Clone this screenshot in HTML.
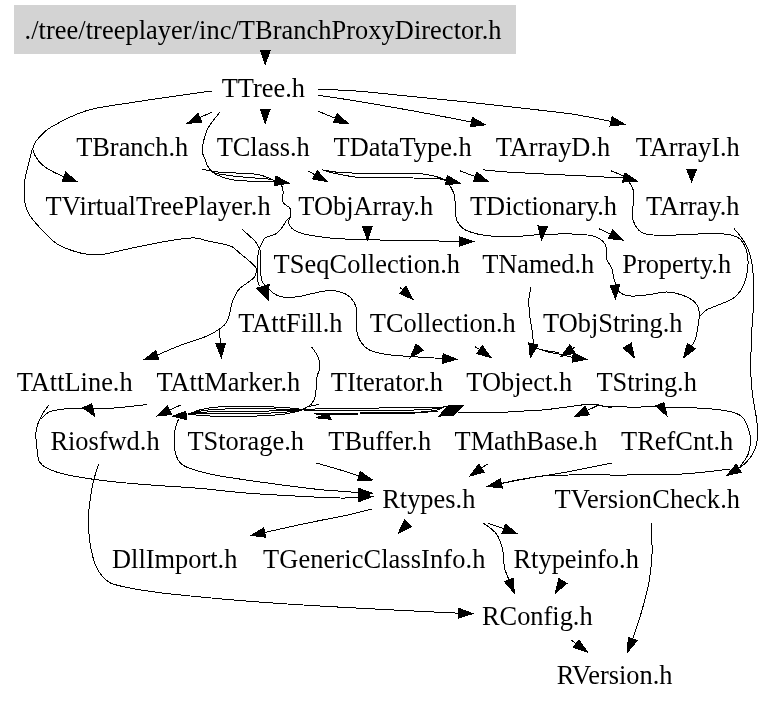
<!DOCTYPE html>
<html><head><meta charset="utf-8"><title>TBranchProxyDirector.h include graph</title>
<style>html,body{margin:0;padding:0;background:#fff}svg{display:block;will-change:transform}text{text-anchor:middle;font-family:"Liberation Serif","DejaVu Serif",serif;font-size:26.4px;fill:#000}.e{fill:none;stroke:#000;stroke-width:1;shape-rendering:crispEdges}.a{fill:#000;stroke:#000;stroke-width:1;shape-rendering:crispEdges}</style></head>
<body>
<svg width="775" height="704" viewBox="0 0 775 704">
<rect x="0" y="0" width="775" height="704" fill="#fff"/>
<rect x="14" y="5" width="502" height="49" fill="#d3d3d3"/>
<path class="e" d="M212.3,111.9 L199.9,117.6"/>
<path class="e" d="M318.0,111.2 L335.3,118.2"/>
<path class="e" d="M318.0,95.2 C325.0,96.3 344.4,99.0 360.0,101.6 C375.6,104.2 393.0,107.2 411.6,110.6 C430.2,114.0 461.5,120.1 471.5,122.0"/>
<path class="e" d="M318.0,89.2 C325.0,89.5 344.4,90.1 360.0,91.3 C375.6,92.5 394.4,94.8 411.6,96.5 C428.8,98.2 446.0,99.8 463.2,101.6 C480.4,103.4 498.7,105.5 514.8,107.3 C530.9,109.1 550.0,111.3 560.0,112.5 C570.0,113.7 566.5,113.0 575.0,114.5 C583.5,116.0 605.1,120.2 611.1,121.4"/>
<path class="e" d="M212.0,91.3 C210.0,91.5 213.8,90.6 200.0,92.6 C186.2,94.5 147.9,100.0 129.0,103.0 C110.1,106.0 99.7,106.6 86.7,110.6 C73.7,114.6 59.0,122.5 50.9,127.2 C42.8,131.9 41.1,135.3 38.1,138.7 C35.1,142.1 33.4,144.7 33.0,147.7 C32.6,150.7 33.9,153.6 35.6,156.6 C37.3,159.6 40.2,163.0 43.2,165.6 C46.2,168.2 50.0,170.1 53.5,172.0 C57.0,173.9 62.2,175.9 63.9,176.7"/>
<path class="e" d="M32.5,148.5 C31.9,150.7 30.4,156.9 29.2,161.7 C28.0,166.4 26.2,172.3 25.3,177.0 C24.4,181.7 24.0,185.3 24.0,190.0 C24.0,194.7 24.4,200.8 25.3,205.0 C26.2,209.2 27.8,212.0 29.5,215.0 C31.2,218.0 32.9,219.8 35.6,223.0 C38.4,226.2 42.2,230.3 46.0,234.0 C49.8,237.7 52.7,241.7 58.6,244.9 C64.5,248.1 75.0,251.7 81.6,253.3 C88.2,254.9 93.8,254.6 98.0,254.6 C102.2,254.6 101.8,254.6 107.0,253.6 C112.2,252.6 118.9,250.8 129.0,248.7 C139.1,246.6 156.9,242.8 167.7,241.0 C178.4,239.2 187.2,238.0 193.5,237.9 C199.8,237.8 200.6,239.4 205.8,240.5 C211.1,241.6 220.5,243.4 225.0,244.5 C229.5,245.6 230.2,245.6 232.7,247.1 C235.2,248.6 237.4,251.3 240.0,253.4 C242.6,255.5 245.3,257.5 248.0,259.9 C250.7,262.3 254.6,265.6 255.9,267.8 C257.2,270.0 256.4,271.1 256.1,272.8 C255.8,274.5 255.6,276.0 253.9,277.8 C252.2,279.6 248.3,282.1 246.0,283.8 C243.7,285.5 241.6,286.6 240.0,288.2 C238.4,289.8 237.5,291.1 236.2,293.5 C234.9,295.9 233.2,299.3 232.1,302.6 C231.0,305.9 230.7,309.9 229.8,313.2 C228.9,316.5 228.1,319.7 226.5,322.3 C224.9,324.9 223.4,326.3 220.0,328.7 C216.6,331.1 212.5,333.7 205.8,336.5 C199.1,339.3 188.1,342.4 180.0,345.5 C171.9,348.6 161.0,353.5 157.2,355.2"/>
<path class="e" d="M220.0,328.7 C220.0,330.2 219.9,335.5 220.0,338.0 C220.1,340.5 220.6,342.7 220.7,343.6"/>
<path class="e" d="M220.0,112.0 C218.1,114.6 211.2,122.2 208.4,127.4 C205.6,132.6 204.1,138.7 203.2,143.0 C202.2,147.3 202.3,150.4 202.7,153.2 C203.0,156.0 204.4,157.8 205.3,160.0 C206.2,162.2 206.4,164.2 207.9,166.5 C209.4,168.8 211.8,171.7 214.4,173.5 C217.0,175.3 220.2,176.3 223.4,177.4 C226.6,178.5 228.8,179.3 233.7,180.0 C238.6,180.7 246.1,181.0 253.0,181.3 C259.9,181.6 270.3,181.3 275.0,182.0 C279.7,182.7 280.0,183.5 281.4,185.2 C282.8,186.9 282.9,189.2 283.1,192.0 C283.3,194.8 281.6,199.2 282.8,202.0 C284.0,204.8 289.1,206.2 290.3,208.7 C291.6,211.2 290.5,215.2 290.3,217.1 C290.1,219.0 289.0,218.7 288.9,220.0 C288.8,221.3 288.5,223.5 289.5,225.2 C290.5,226.9 292.1,228.8 294.7,230.3 C297.3,231.8 299.9,233.0 305.0,234.2 C310.1,235.4 319.2,236.7 325.0,237.4 C330.8,238.2 334.1,238.3 340.0,238.7 C345.9,239.1 348.7,239.4 360.6,239.7 C372.5,240.0 395.2,240.2 411.6,240.5 C428.0,240.8 451.1,241.2 459.0,241.4"/>
<path class="e" d="M290.3,217.1 C289.7,217.6 288.3,218.2 286.9,220.0 C285.5,221.8 283.5,225.4 281.8,227.7 C280.1,229.9 278.6,232.1 276.6,233.5 C274.6,234.9 271.8,235.2 269.9,236.0 C267.9,236.8 266.1,237.0 264.9,238.0 C263.6,239.0 263.3,240.3 262.4,242.0 C261.5,243.7 260.4,246.1 259.6,248.4 C258.9,250.7 258.2,252.2 257.9,255.9 C257.6,259.6 257.7,266.3 257.7,270.8 C257.7,275.3 257.7,280.3 258.1,282.8 C258.5,285.3 259.6,285.2 259.9,285.7"/>
<path class="e" d="M202.1,169.3 C205.2,169.8 214.5,171.7 220.8,172.3 C227.2,173.0 233.8,172.8 240.2,173.2 C246.6,173.6 253.7,173.5 259.5,174.8 C265.3,176.1 272.6,179.8 275.2,180.8"/>
<path class="e" d="M209.0,168.5 C209.9,169.2 210.3,171.6 214.4,172.9 C218.5,174.2 227.3,175.3 233.7,176.1 C240.1,176.9 246.6,177.2 253.0,177.8 C259.4,178.4 269.2,179.1 272.4,179.4"/>
<path class="e" d="M242.4,229.3 C243.6,230.4 247.4,234.1 249.5,236.0 C251.6,237.9 253.2,238.9 254.9,241.0 C256.6,243.1 258.4,246.2 259.4,248.4 C260.4,250.6 260.5,249.7 260.7,253.9 C260.9,258.1 260.4,269.2 260.7,273.8 C261.0,278.4 261.5,279.8 262.4,281.8 C263.3,283.8 264.6,284.3 265.9,285.7 C267.1,287.1 268.2,288.7 269.9,290.2 C271.5,291.7 273.5,293.5 275.8,294.7 C278.1,295.9 280.2,296.8 283.8,297.2 C287.4,297.6 292.5,297.4 297.3,296.8 C302.1,296.2 308.1,294.5 312.7,293.5 C317.3,292.5 321.3,291.4 325.0,291.0 C328.7,290.6 331.0,290.1 334.8,290.8 C338.6,291.5 344.2,292.8 347.7,295.2 C351.1,297.6 354.0,301.6 355.5,305.5 C357.0,309.4 356.6,314.1 356.8,318.4 C357.0,322.7 356.2,327.4 356.8,331.3 C357.4,335.2 358.7,338.6 360.6,341.6 C362.5,344.6 365.2,347.5 368.4,349.4 C371.6,351.3 376.2,352.3 380.0,353.2 C383.8,354.1 385.7,354.4 391.0,355.0 C396.3,355.6 403.0,356.0 411.6,356.6 C420.2,357.2 437.6,358.2 442.8,358.5"/>
<path class="e" d="M311.6,346.8 C312.7,348.5 316.6,353.6 318.0,357.0 C319.4,360.4 320.1,363.9 319.9,367.4 C319.7,370.8 317.5,373.0 316.8,377.7 C316.1,382.4 316.4,391.1 315.5,395.5 C314.6,399.9 313.4,401.6 311.6,403.8 C309.8,406.0 306.6,407.5 304.7,408.5 C302.8,409.5 300.8,409.8 300.0,410.0"/>
<path class="e" d="M322.0,169.8 C324.8,170.2 332.4,171.8 338.7,172.4 C345.0,173.0 353.6,173.0 360.0,173.2 C366.4,173.4 368.1,173.4 377.4,173.4 C386.7,173.4 406.6,173.0 416.0,173.4 C425.4,173.8 428.9,174.9 434.0,176.0 C439.1,177.1 444.3,179.5 446.3,180.2"/>
<path class="e" d="M326.0,171.3 C328.1,171.8 333.1,173.2 338.7,174.2 C344.3,175.2 351.7,176.9 359.4,177.5 C367.1,178.1 376.0,177.8 385.0,177.9 C394.0,178.0 404.4,177.8 413.5,178.0 C422.6,178.2 433.9,178.2 439.4,178.8 C444.9,179.4 444.9,180.6 446.5,181.5 C448.1,182.4 447.7,182.0 449.0,184.2 C450.3,186.4 453.1,190.2 454.2,194.5 C455.3,198.8 455.1,205.7 455.5,210.0 C455.9,214.3 455.5,217.2 456.8,220.3 C458.1,223.4 460.0,226.4 463.2,228.6 C466.4,230.8 470.9,232.4 476.1,233.7 C481.3,235.0 487.8,235.8 494.2,236.3 C500.6,236.8 506.8,236.9 514.8,236.6 C522.8,236.3 532.5,234.9 542.0,234.5 C551.5,234.1 563.2,233.8 571.6,234.0 C580.0,234.2 587.1,234.6 592.3,235.8 C597.5,237.0 600.2,238.8 602.6,241.0 C605.0,243.2 605.9,245.7 606.5,248.7 C607.1,251.7 605.6,255.8 606.5,259.0 C607.4,262.2 610.3,264.6 611.6,268.0 C612.9,271.4 612.9,275.7 614.2,279.7 C615.5,283.7 616.6,289.3 619.4,292.0 C622.2,294.7 626.1,295.6 631.0,296.0 C635.9,296.4 643.0,295.3 649.0,294.6 C655.0,293.9 661.4,291.9 667.0,292.0 C672.6,292.1 677.9,293.4 682.6,295.2 C687.4,297.0 692.7,300.0 695.5,303.0 C698.3,306.0 699.0,309.4 699.4,313.2 C699.8,317.0 698.6,321.7 698.0,326.0 C697.4,330.3 696.6,335.6 695.5,339.0 C694.4,342.4 692.1,345.0 691.4,346.1"/>
<path class="e" d="M307.7,170.8 L314.9,174.8"/>
<path class="e" d="M460.0,170.8 L475.2,176.6"/>
<path class="e" d="M482.9,169.8 C487.2,170.2 497.9,171.4 508.7,172.1 C519.5,172.8 534.5,173.5 547.4,174.2 C560.3,174.8 574.8,175.4 586.0,176.0 C597.2,176.6 608.2,177.3 614.5,177.5 C620.8,177.7 622.2,177.5 623.7,177.5"/>
<path class="e" d="M611.0,170.8 L625.0,176.5"/>
<path class="e" d="M628.0,180.3 C628.8,181.8 632.0,186.2 633.0,189.4 C634.0,192.6 633.9,195.8 633.8,199.7 C633.7,203.6 632.3,209.0 632.3,212.6 C632.2,216.2 632.1,218.3 633.5,221.5 C634.9,224.7 637.2,229.4 640.5,231.7 C643.8,233.9 646.0,234.5 653.2,235.0 C660.5,235.5 674.6,235.1 684.0,234.8 C693.4,234.6 701.8,233.5 709.5,233.5 C717.2,233.5 724.9,233.8 730.0,234.8 C735.1,235.8 737.4,236.7 740.2,239.4 C743.0,242.1 745.3,246.5 746.6,251.0 C747.9,255.5 748.3,260.8 747.9,266.3 C747.5,271.8 746.1,279.1 744.0,284.2 C741.9,289.3 738.6,293.8 735.0,297.0 C731.4,300.2 727.0,301.3 722.3,303.4 C717.6,305.5 710.8,307.6 707.0,309.7 C703.2,311.8 701.0,314.9 699.8,316.0"/>
<path class="e" d="M733.8,228.4 C735.0,229.8 738.8,233.9 741.0,237.0 C743.2,240.1 745.4,243.5 747.0,246.8 C748.6,250.1 749.5,253.2 750.5,257.0 C751.5,260.8 752.2,263.2 752.8,269.8 C753.4,276.4 754.1,285.8 753.9,296.7 C753.7,307.6 752.1,322.2 751.6,335.0 C751.1,347.8 750.6,363.2 750.8,373.4 C751.0,383.6 751.8,388.7 752.8,396.4 C753.8,404.1 755.8,413.0 756.6,419.4 C757.4,425.8 758.0,429.7 757.7,434.8 C757.4,439.9 756.5,445.5 754.7,450.0 C752.9,454.5 749.7,458.6 747.0,461.6 C744.3,464.6 740.1,467.1 738.7,468.2"/>
<path class="e" d="M598.7,228.6 L610.5,234.2"/>
<path class="e" d="M400.0,287.4 L402.8,290.0"/>
<path class="e" d="M475.2,346.9 L479.5,349.5"/>
<path class="e" d="M531.0,287.4 C530.7,289.1 529.3,293.4 529.0,297.7 C528.7,302.0 528.9,307.8 529.4,313.2 C529.9,318.6 531.3,324.9 532.0,330.0 C532.7,335.1 533.2,341.6 533.5,344.0"/>
<path class="e" d="M533.4,344.2 C533.5,344.6 532.1,345.6 534.2,346.8 C536.3,348.0 541.3,350.1 545.8,351.4 C550.3,352.7 556.8,353.5 561.3,354.5 C565.8,355.5 570.8,356.9 572.7,357.4"/>
<path class="e" d="M575.5,346.8 L572.4,348.8"/>
<path class="e" d="M536.0,348.0 C537.5,348.4 541.2,349.8 545.0,350.5 C548.8,351.2 556.4,352.2 558.7,352.5"/>
<path class="e" d="M49.0,405.0 C47.7,406.8 43.5,411.6 41.3,416.0 C39.1,420.4 36.6,425.6 36.0,431.6 C35.4,437.6 36.7,446.8 37.4,452.0 C38.1,457.2 37.6,459.6 40.0,462.6 C42.4,465.7 45.4,467.9 51.6,470.3 C57.8,472.7 66.7,474.9 77.4,476.8 C88.1,478.8 103.1,480.6 116.0,482.0 C128.9,483.4 140.8,484.2 154.8,485.3 C168.8,486.4 185.3,487.1 200.0,488.4 C214.7,489.6 227.4,491.5 243.2,492.8 C259.0,494.1 278.7,495.1 294.8,496.0 C310.9,496.9 329.4,497.8 340.0,498.0 C350.6,498.2 355.6,497.6 358.7,497.5"/>
<path class="e" d="M147.0,404.5 C141.8,405.1 124.6,407.2 116.0,407.9 C107.4,408.6 101.1,408.8 95.5,408.9 C89.9,408.9 87.8,408.2 82.6,408.2 C77.4,408.2 70.1,408.3 64.5,408.9 C58.9,409.5 52.9,410.4 49.0,412.0 C45.1,413.6 42.6,417.6 41.3,418.7"/>
<path class="e" d="M180.6,405.0 L169.5,410.1"/>
<path class="e" d="M188.0,414.2 C190.5,413.3 197.3,410.3 203.0,409.1 C208.7,407.8 213.7,407.1 222.0,406.7 C230.3,406.3 242.7,406.3 253.0,406.4 C263.3,406.5 275.5,407.0 284.0,407.5 C292.5,408.1 300.7,409.3 304.0,409.6"/>
<path class="e" d="M188.0,414.2 C190.5,413.6 197.3,411.5 203.0,410.7 C208.7,409.8 213.7,409.4 222.0,409.1 C230.3,408.8 242.7,408.8 253.0,408.8 C263.3,408.8 275.5,409.0 284.0,409.1 C292.5,409.3 300.7,409.5 304.0,409.6"/>
<path class="e" d="M188.0,414.2 C190.5,413.9 197.3,412.7 203.0,412.3 C208.7,411.8 213.7,411.7 222.0,411.5 C230.3,411.3 242.7,411.3 253.0,411.2 C263.3,411.1 275.5,411.0 284.0,410.7 C292.5,410.5 300.7,409.8 304.0,409.6"/>
<path class="e" d="M188.0,414.2 C190.5,414.1 197.3,413.9 203.0,413.9 C208.7,413.8 213.7,413.9 222.0,413.9 C230.3,413.9 242.7,413.9 253.0,413.6 C263.3,413.3 275.5,413.0 284.0,412.3 C292.5,411.7 300.7,410.1 304.0,409.6"/>
<path class="e" d="M188.0,414.2 C190.5,414.4 197.3,415.2 203.0,415.6 C208.7,416.0 213.7,416.4 222.0,416.5 C230.3,416.6 242.7,416.6 253.0,416.2 C263.3,415.8 275.5,415.2 284.0,414.1 C292.5,413.0 300.7,410.3 304.0,409.6"/>
<path class="e" d="M304.0,409.6 C308.3,409.4 314.0,408.8 330.0,408.5 C346.0,408.2 380.2,408.1 400.0,407.8 C419.8,407.5 440.7,407.0 448.8,406.9"/>
<path class="e" d="M304.0,410.8 C308.3,410.8 315.2,411.0 330.0,411.0 C344.8,411.0 377.1,410.9 393.0,410.6 C408.9,410.4 417.1,410.0 425.6,409.5 C434.1,409.0 440.9,408.1 444.0,407.8"/>
<path class="e" d="M314.0,413.2 C321.7,413.2 342.2,413.2 360.0,413.0 C377.8,412.8 407.7,412.6 421.0,412.0 C434.3,411.4 436.8,409.9 440.0,409.5"/>
<path class="e" d="M316.0,414.2 C323.3,414.2 343.5,414.2 360.0,414.0 C376.5,413.8 402.0,413.5 415.0,413.0 C428.0,412.5 434.2,411.3 438.0,411.0"/>
<path class="e" d="M307.0,406.8 L318.6,404.5"/>
<path class="e" d="M178.7,418.7 C178.0,420.9 175.5,426.4 174.8,431.6 C174.2,436.8 173.9,444.5 174.8,449.7 C175.7,454.9 177.2,459.4 180.0,462.6 C182.8,465.8 185.4,466.9 191.6,469.0 C197.8,471.1 204.5,473.1 217.4,475.5 C230.3,477.9 251.8,480.8 269.0,483.2 C286.2,485.6 307.8,488.3 320.6,489.7 C333.4,491.1 339.5,491.0 345.8,491.5 C352.1,492.0 356.6,492.6 358.7,492.8"/>
<path class="e" d="M316.3,463.0 C321.2,464.4 338.7,469.4 345.8,471.6 C352.9,473.8 356.8,475.4 358.9,476.1"/>
<path class="e" d="M372.4,509.0 C368.0,510.1 354.5,513.6 345.8,515.5 C337.1,517.4 328.5,518.8 320.0,520.5 C311.5,522.2 304.0,523.8 294.8,525.8 C285.6,527.8 269.7,531.4 264.7,532.5"/>
<path class="e" d="M487.7,463.9 L481.6,468.1"/>
<path class="e" d="M611.6,463.0 C604.5,464.4 582.5,469.1 569.0,471.6 C555.5,474.1 541.6,476.0 530.3,478.0 C519.0,480.0 506.2,482.5 501.4,483.4"/>
<path class="e" d="M729.8,469.0 C726.4,469.4 717.8,470.7 709.2,471.6 C700.6,472.5 692.0,473.6 678.2,474.2 C664.4,474.8 644.8,474.9 626.6,475.0 C608.4,475.1 582.9,474.8 569.0,475.0 C555.1,475.2 551.6,475.2 543.0,476.0 C534.4,476.8 524.2,478.8 517.4,480.0 C510.6,481.2 504.6,482.9 502.0,483.5"/>
<path class="e" d="M487.7,523.2 L503.8,528.7"/>
<path class="e" d="M482.9,522.7 C485.2,524.6 493.2,529.4 496.5,534.0 C499.8,538.6 501.5,544.8 502.8,550.3 C504.1,555.8 503.4,562.4 504.4,567.3 C505.4,572.2 508.2,577.8 509.0,579.9"/>
<path class="e" d="M98.6,463.9 C97.7,467.1 94.6,475.7 93.0,483.2 C91.4,490.7 89.8,502.2 89.0,509.0 C88.2,515.8 88.3,518.2 88.5,524.0 C88.7,529.8 89.1,537.3 90.2,544.0 C91.3,550.7 92.7,558.4 95.2,564.3 C97.7,570.2 101.1,575.8 105.3,579.4 C109.5,583.0 111.2,583.8 120.4,586.0 C129.6,588.2 142.8,590.5 160.7,592.8 C178.6,595.0 205.4,597.5 227.8,599.5 C250.2,601.5 271.8,603.0 295.0,604.5 C318.2,606.0 343.8,607.4 367.0,608.6 C390.2,609.9 418.9,611.2 434.2,612.0 C449.5,612.8 454.7,613.0 458.8,613.2"/>
<path class="e" d="M571.3,640.2 L576.1,643.7"/>
<path class="e" d="M651.9,523.4 C651.9,526.2 651.9,534.4 651.9,540.0 C651.9,545.6 652.4,550.0 651.9,557.0 C651.4,564.0 650.6,573.0 649.0,581.9 C647.4,590.8 644.7,600.7 642.0,610.2 C639.3,619.7 634.2,634.1 632.7,638.9"/>
<path class="e" d="M598.7,405.0 L587.3,410.5"/>
<path class="e" d="M598.2,405.8 C602.9,406.0 616.7,406.8 626.6,407.0 C636.5,407.2 644.7,406.8 657.6,407.0 C670.5,407.2 692.0,407.6 704.0,408.4 C716.0,409.1 723.3,410.0 729.8,411.5 C736.2,413.0 739.5,414.0 742.7,417.4 C745.9,420.8 747.9,427.5 749.2,431.6 C750.5,435.7 750.7,438.1 750.5,442.0 C750.3,445.9 749.6,450.7 747.9,454.8 C746.2,458.9 741.5,464.6 740.2,466.5"/>
<path class="e" d="M457.6,412.5 C461.3,412.5 473.3,412.5 480.0,412.5 C486.7,412.5 490.7,412.7 497.8,412.5 C504.9,412.3 515.0,411.5 522.6,411.1 C530.2,410.7 536.4,410.5 543.3,409.9 C550.2,409.3 557.1,408.3 564.0,407.4 C570.9,406.5 579.1,405.1 584.6,404.7 C590.1,404.2 593.8,404.4 597.0,404.7 C600.2,405.0 601.5,406.2 604.0,406.6 C606.5,407.0 610.7,407.2 612.0,407.3"/>
<polygon class="a" points="265.3,64.4 260.5,50.4 270.1,50.4"/>
<polygon class="a" points="265.2,123.5 260.4,109.5 270.0,109.5"/>
<polygon class="a" points="187.2,123.5 197.9,113.3 201.9,122.0"/>
<polygon class="a" points="348.3,123.5 333.5,122.7 337.1,113.8"/>
<polygon class="a" points="485.2,124.8 470.5,126.7 472.5,117.3"/>
<polygon class="a" points="624.8,124.3 610.1,126.0 612.1,116.7"/>
<polygon class="a" points="77.0,181.7 62.2,181.2 65.6,172.2"/>
<polygon class="a" points="144.0,359.7 155.7,350.6 158.8,359.7"/>
<polygon class="a" points="221.3,357.6 215.9,343.8 225.5,343.4"/>
<polygon class="a" points="473.0,241.5 459.0,246.2 459.0,236.6"/>
<polygon class="a" points="268.2,299.7 256.2,288.4 269.1,284.5"/>
<polygon class="a" points="289.0,183.2 274.4,185.5 276.0,176.1"/>
<polygon class="a" points="456.8,359.2 442.6,363.3 443.1,353.7"/>
<polygon class="a" points="172.4,416.2 185.8,411.4 186.9,419.7"/>
<polygon class="a" points="367.4,240.3 362.6,226.3 372.2,226.3"/>
<polygon class="a" points="460.0,183.2 445.3,184.9 447.4,175.5"/>
<polygon class="a" points="683.5,357.7 687.4,343.4 695.4,348.9"/>
<polygon class="a" points="615.5,299.0 610.0,285.3 619.6,284.8"/>
<polygon class="a" points="327.1,181.6 312.5,179.0 317.2,170.6"/>
<polygon class="a" points="488.3,181.6 473.5,181.1 476.9,172.1"/>
<polygon class="a" points="637.2,181.2 622.4,182.1 625.0,172.8"/>
<polygon class="a" points="691.6,181.6 686.7,169.2 696.5,169.2"/>
<polygon class="a" points="726.7,475.5 736.2,464.1 741.2,472.3"/>
<polygon class="a" points="541.5,240.2 537.9,225.9 547.4,226.6"/>
<polygon class="a" points="623.2,240.2 608.5,238.5 612.6,229.9"/>
<polygon class="a" points="413.0,299.5 399.5,293.5 406.0,286.4"/>
<polygon class="a" points="410.3,357.6 416.0,343.9 423.2,350.3"/>
<polygon class="a" points="491.0,357.6 476.8,353.5 482.3,345.6"/>
<polygon class="a" points="530.3,357.6 528.8,342.9 538.1,345.0"/>
<polygon class="a" points="586.6,359.2 572.1,362.1 573.4,352.6"/>
<polygon class="a" points="560.8,356.6 569.8,344.8 575.1,352.8"/>
<polygon class="a" points="634.3,357.6 623.0,348.0 631.3,343.1"/>
<polygon class="a" points="372.4,496.6 358.7,493.2 358.7,501.8"/>
<polygon class="a" points="82.6,407.9 91.6,403.7 94.7,416.1"/>
<polygon class="a" points="156.8,416.0 167.5,405.8 171.5,414.5"/>
<polygon class="a" points="372.4,493.2 358.7,488.4 358.7,497"/>
<polygon class="a" points="372.4,480.0 357.6,480.7 360.3,471.5"/>
<polygon class="a" points="251.0,535.4 263.7,527.8 265.7,537.2"/>
<polygon class="a" points="398.2,533.5 404.3,520.0 411.3,526.6"/>
<polygon class="a" points="470.0,476.0 478.8,464.1 484.3,472.1"/>
<polygon class="a" points="487.7,486.3 500.4,478.7 502.4,488.1"/>
<polygon class="a" points="516.9,533.5 502.1,533.2 505.4,524.2"/>
<polygon class="a" points="514.2,592.9 504.5,581.7 513.4,578.1"/>
<polygon class="a" points="555.5,592.9 558.7,578.5 566.9,583.5"/>
<polygon class="a" points="472.8,613.6 458.7,618.0 458.9,608.4"/>
<polygon class="a" points="587.4,652.0 573.3,647.6 578.9,639.9"/>
<polygon class="a" points="627.7,652.0 628.2,637.2 637.2,640.6"/>
<polygon class="a" points="574.7,416.6 585.2,406.2 589.4,414.8"/>
<polygon class="a" points="655.5,405.8 664,402.7 667.1,416.1"/>
<polygon class="a" points="316.3,417.8 327.9,413.1 331.4,419.4"/>
<polygon class="a" points="448.8,405 464,405 453.5,415.4 439,416.1"/>
<text x="263.0" y="38.6" textLength="477" lengthAdjust="spacing">./tree/treeplayer/inc/TBranchProxyDirector.h</text>
<text x="263.4" y="97.0">TTree.h</text>
<text x="132.2" y="155.55">TBranch.h</text>
<text x="263.2" y="155.55">TClass.h</text>
<text x="402.6" y="155.55">TDataType.h</text>
<text x="553.0" y="155.55">TArrayD.h</text>
<text x="687.7" y="155.55">TArrayI.h</text>
<text x="158.1" y="214.5" textLength="225" lengthAdjust="spacing">TVirtualTreePlayer.h</text>
<text x="365.7" y="214.5">TObjArray.h</text>
<text x="543.5" y="214.5">TDictionary.h</text>
<text x="692.7" y="214.5">TArray.h</text>
<text x="366.8" y="273.05" textLength="186.5" lengthAdjust="spacing">TSeqCollection.h</text>
<text x="538.2" y="273.05">TNamed.h</text>
<text x="676.7" y="273.05">Property.h</text>
<text x="290.4" y="332.2">TAttFill.h</text>
<text x="442.8" y="332.2">TCollection.h</text>
<text x="612.8" y="332.2" textLength="139.5" lengthAdjust="spacing">TObjString.h</text>
<text x="74.7" y="390.75">TAttLine.h</text>
<text x="228.4" y="390.75">TAttMarker.h</text>
<text x="386.9" y="390.75" textLength="112.3" lengthAdjust="spacing">TIterator.h</text>
<text x="519.2" y="390.75">TObject.h</text>
<text x="646.7" y="390.75">TString.h</text>
<text x="105.0" y="449.7">Riosfwd.h</text>
<text x="245.7" y="449.7">TStorage.h</text>
<text x="379.7" y="449.7">TBuffer.h</text>
<text x="526.0" y="449.7">TMathBase.h</text>
<text x="677.2" y="449.7">TRefCnt.h</text>
<text x="428.8" y="508.4">Rtypes.h</text>
<text x="647.3" y="508.4" textLength="185.5" lengthAdjust="spacing">TVersionCheck.h</text>
<text x="174.7" y="567.5">DllImport.h</text>
<text x="374.2" y="567.5" textLength="222.3" lengthAdjust="spacing">TGenericClassInfo.h</text>
<text x="576.2" y="567.5">Rtypeinfo.h</text>
<text x="537.3" y="624.75">RConfig.h</text>
<text x="614.6" y="683.5">RVersion.h</text>
</svg>
</body></html>
